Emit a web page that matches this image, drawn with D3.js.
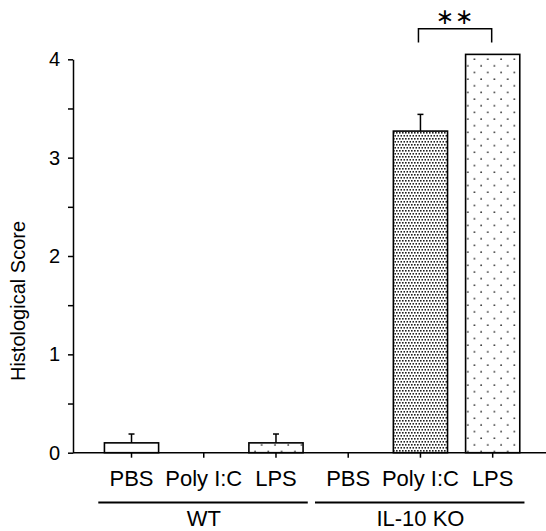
<!DOCTYPE html>
<html>
<head>
<meta charset="utf-8">
<script src="https://cdn.jsdelivr.net/npm/d3@7"></script>
<style>
  body { margin: 0; background: #fff; }
  text { font-family: "Liberation Sans", Arial, sans-serif; fill: #000; }
</style>
</head>
<body>
<svg id="chart"></svg>
<script>
// groups and treatments (x categories)
let groups = ["WT", "IL-10 KO"];
let treatments = ["PBS", "Poly I:C", "LPS"];

// histological score per bar (WT PBS, WT Poly I:C, WT LPS, KO PBS, KO Poly I:C, KO LPS)
let means = [0.10, 0, 0.10, 0, 3.27, 4.05];
let errors = [0.09, 0, 0.09, 0, 0.17, 0];

// y axis ticks
let yTicks = [0, 1, 2, 3, 4];
let yMinorTicks = [0.5, 1.5, 2.5, 3.5];

// significance bracket between KO Poly I:C and KO LPS
let sigPair = [4, 5];
let sigLabel = "**";
let sigTop = 4.31, sigLeg = 4.17;

let width = 546, height = 531;
let margin = {top: 59.3, left: 73, bottom: 78.3};
let plotBottom = height - margin.bottom;

let svg = d3.select("#chart")
    .attr("width", width)
    .attr("height", height);

// one band per group/treatment combo
let bars = [];
groups.forEach((g, gi) => {
    treatments.forEach((t, ti) => {
        let i = gi * treatments.length + ti;
        bars.push({id: g + "|" + t, group: g, treatment: t, value: means[i], err: errors[i]});
    });
});

let xScale = d3.scaleBand()
    .domain(bars.map(d => d.id))
    .range([95.4, 528.8])
    .paddingInner(0.25)
    .paddingOuter(0.125);

let yScale = d3.scaleLinear()
    .domain([0, 4])
    .range([plotBottom, margin.top]);

// fill patterns
let defs = svg.append("defs");

let dense = defs.append("pattern")
    .attr("id", "dense")
    .attr("patternUnits", "userSpaceOnUse")
    .attr("width", 3)
    .attr("height", 6);
dense.append("rect").attr("width", 3).attr("height", 6).attr("fill", "#fff");
dense.append("rect").attr("x", 0).attr("y", 0).attr("width", 1.6).attr("height", 1.6).attr("fill", "#222");
dense.append("rect").attr("x", 1.5).attr("y", 3).attr("width", 1.6).attr("height", 1.6).attr("fill", "#222");

let sparse = defs.append("pattern")
    .attr("id", "sparse")
    .attr("patternUnits", "userSpaceOnUse")
    .attr("width", 13.3)
    .attr("height", 13.3)
    .attr("x", 6)
    .attr("y", 3);
sparse.append("rect").attr("width", 13.3).attr("height", 13.3).attr("fill", "#fff");
sparse.append("circle").attr("cx", 3).attr("cy", 3).attr("r", 0.9).attr("fill", "#333");
sparse.append("circle").attr("cx", 9.65).attr("cy", 9.65).attr("r", 0.9).attr("fill", "#333");

let fills = {"PBS": "#fff", "Poly I:C": "url(#dense)", "LPS": "url(#sparse)"};

// bars
svg.selectAll("rect.bar")
    .data(bars.filter(d => d.value > 0))
    .enter()
    .append("rect")
    .attr("class", "bar")
    .attr("x", d => xScale(d.id))
    .attr("y", d => yScale(d.value))
    .attr("width", xScale.bandwidth())
    .attr("height", d => yScale(0) - yScale(d.value))
    .attr("fill", d => fills[d.treatment])
    .attr("stroke", "#000")
    .attr("stroke-width", 1.6);

// error bars (upper only)
let errG = svg.selectAll("g.err")
    .data(bars.filter(d => d.err > 0))
    .enter()
    .append("g")
    .attr("class", "err")
    .attr("stroke", "#000")
    .attr("stroke-width", 1.5);

errG.append("line")
    .attr("x1", d => xScale(d.id) + xScale.bandwidth() / 2)
    .attr("x2", d => xScale(d.id) + xScale.bandwidth() / 2)
    .attr("y1", d => yScale(d.value))
    .attr("y2", d => yScale(d.value + d.err));

errG.append("line")
    .attr("x1", d => xScale(d.id) + xScale.bandwidth() / 2 - 3)
    .attr("x2", d => xScale(d.id) + xScale.bandwidth() / 2 + 3)
    .attr("y1", d => yScale(d.value + d.err))
    .attr("y2", d => yScale(d.value + d.err));

// y axis
let yAxis = svg.append("g")
    .attr("transform", "translate(" + margin.left + ",0)")
    .call(d3.axisLeft(yScale).tickValues(yTicks).tickFormat(d3.format("d")).tickSize(5).tickSizeOuter(0).tickPadding(8));

svg.append("g")
    .attr("transform", "translate(" + margin.left + ",0)")
    .call(d3.axisLeft(yScale).tickValues(yMinorTicks).tickFormat("").tickSize(5).tickSizeOuter(0))
    .select(".domain").remove();

yAxis.selectAll("text").style("font-size", "20px").style("font-family", "Liberation Sans, Arial, sans-serif");

// x axis
let xAxis = svg.append("g")
    .attr("transform", "translate(0," + plotBottom + ")")
    .call(d3.axisBottom(xScale).tickFormat(id => id.split("|")[1]).tickSize(5).tickSizeOuter(0).tickPadding(13));

xAxis.select(".domain").remove();
xAxis.append("line")
    .attr("x1", margin.left)
    .attr("x2", width)
    .attr("stroke", "#000");

xAxis.selectAll("text").style("font-size", "22px").style("font-family", "Liberation Sans, Arial, sans-serif");

svg.selectAll(".domain, .tick line, g > line").attr("stroke-width", 1.5);

// group underlines + labels
groups.forEach(g => {
    let first = xScale(g + "|" + treatments[0]) + xScale.bandwidth() / 2;
    let last = xScale(g + "|" + treatments[treatments.length - 1]) + xScale.bandwidth() / 2;
    let step = xScale.step();

    svg.append("line")
        .attr("x1", first - 0.46 * step)
        .attr("x2", last + 0.44 * step)
        .attr("y1", 502.5)
        .attr("y2", 502.5)
        .attr("stroke", "#000")
        .attr("stroke-width", 1.8);

    svg.append("text")
        .attr("x", (first + last) / 2)
        .attr("y", 526)
        .attr("text-anchor", "middle")
        .style("font-size", "22px")
        .text(g);
});

// y label
svg.append("text")
    .attr("transform", "translate(25,301) rotate(-90)")
    .attr("text-anchor", "middle")
    .style("font-size", "20px")
    .text("Histological Score");

// significance bracket
let xa = xScale(bars[sigPair[0]].id) + xScale.bandwidth() / 2 - 2;
let xb = xScale(bars[sigPair[1]].id) + xScale.bandwidth() / 2 - 1;

svg.append("path")
    .attr("d", "M" + xa + "," + yScale(sigLeg) + "V" + yScale(sigTop) + "H" + xb + "V" + yScale(sigLeg))
    .attr("fill", "none")
    .attr("stroke", "#000")
    .attr("stroke-width", 1.5);

svg.append("text")
    .attr("x", (xa + xb) / 2)
    .attr("y", 24)
    .attr("text-anchor", "middle")
    .style("font-family", "DejaVu Sans, sans-serif")
    .style("font-size", "22px")
    .style("letter-spacing", "1px")
    .text(sigLabel.replace(/\*/g, "\u2217"));
</script>
</body>
</html>
